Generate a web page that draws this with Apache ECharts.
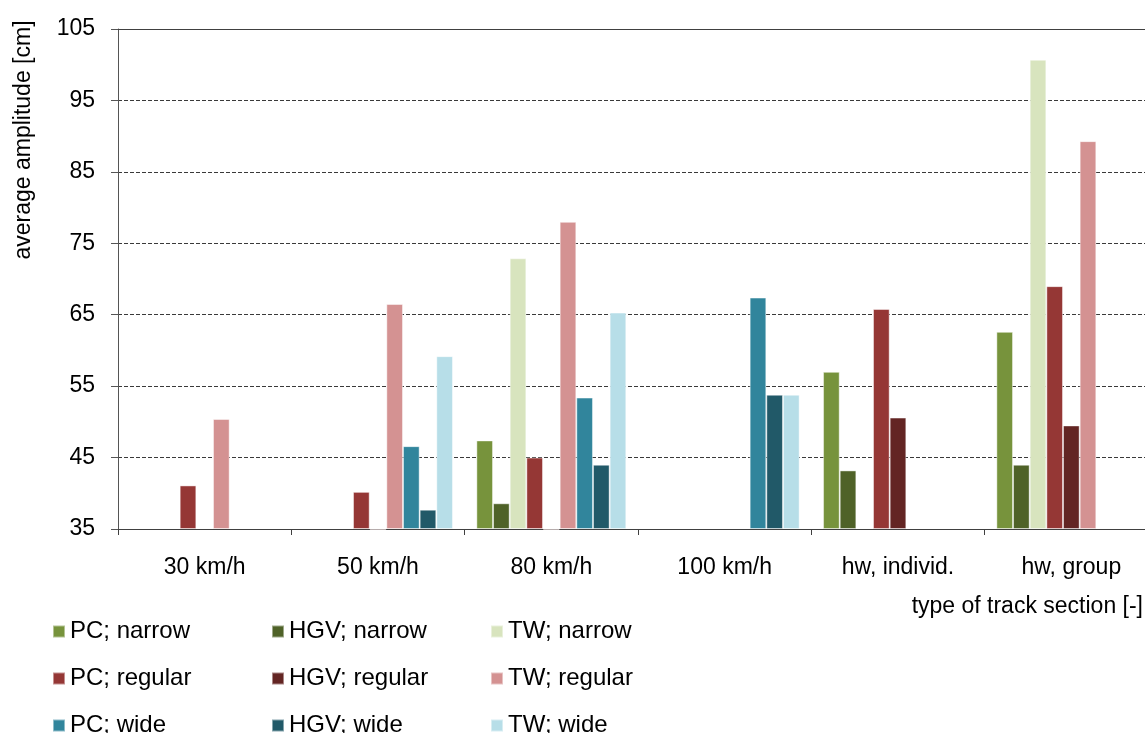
<!DOCTYPE html>
<html>
<head>
<meta charset="utf-8">
<script src="https://cdn.jsdelivr.net/npm/echarts@6/dist/echarts.min.js"></script>
<style>
html,body{margin:0;padding:0;background:#fff;overflow:hidden;width:1145px;height:733px;}
#chart{width:1158px;height:733px;}
</style>
</head>
<body>
<div id="chart"></div>
<script>
const categories = ['30 km/h', '50 km/h', '80 km/h', '100 km/h', 'hw, individ.', 'hw, group'];
const yTicks = [35, 45, 55, 65, 75, 85, 95, 105];

const pcNarrow   = [null, null, 47.4, null, 57.0, 62.6];
const hgvNarrow  = [null, null, 38.6, null, 43.2, 44.0];
const twNarrow   = [null, null, 72.9, null, null, 100.7];
const pcRegular  = [41.1, 40.2, 45.0, null, 65.8, 69.0];
const hgvRegular = [null, 34.8, 34.8, null, 50.6, 49.5];
const twRegular  = [50.4, 66.5, 78.0, null, null, 89.3];
const pcWide     = [null, 46.6, 53.4, 67.4, null, null];
const hgvWide    = [null, 37.7, 44.0, 53.8, null, null];
const twWide     = [null, 59.2, 65.3, 53.8, null, null];

const seriesNames = ['PC; narrow', 'HGV; narrow', 'TW; narrow',
                     'PC; regular', 'HGV; regular', 'TW; regular',
                     'PC; wide', 'HGV; wide', 'TW; wide'];
const seriesData = [pcNarrow, hgvNarrow, twNarrow, pcRegular, hgvRegular, twRegular, pcWide, hgvWide, twWide];
const seriesColors = ['#77933C', '#4F6228', '#D8E4BE',
                      '#953735', '#632523', '#D49292',
                      '#31859C', '#215968', '#B7DEE8'];

const FONT = '"Liberation Sans", Arial, sans-serif';

const chart = echarts.init(document.getElementById('chart'), null, {renderer: 'canvas'});

const option = {
  backgroundColor: '#ffffff',
  animation: false,
  textStyle: {fontFamily: FONT, color: '#000'},
  grid: {left: 118, top: 29, right: 0, bottom: 204, containLabel: false},
  legend: {
    left: 47,
    top: 608,
    width: 660,
    orient: 'horizontal',
    icon: 'rect',
    itemWidth: 12,
    itemHeight: 12,
    itemGap: 10,
    data: seriesNames,
    textStyle: {fontFamily: FONT, fontSize: 24, color: '#000', width: 191, lineHeight: 37}
  },
  xAxis: [{
    type: 'category',
    data: categories,
    position: 'bottom',
    axisLine: {show: true, lineStyle: {color: '#404040', width: 1}},
    axisTick: {show: true, length: 6, interval: 0, lineStyle: {color: '#404040'}},
    axisLabel: {fontFamily: FONT, fontSize: 23, color: '#000', margin: 27, interval: 0},
    splitLine: {show: false}
  }, {
    type: 'category',
    data: categories,
    position: 'top',
    axisLine: {show: true, lineStyle: {color: '#404040', width: 1}},
    axisTick: {show: false},
    axisLabel: {show: false},
    splitLine: {show: false}
  }],
  yAxis: {
    type: 'value',
    min: yTicks[0],
    max: yTicks[yTicks.length - 1],
    interval: 10,
    startValue: 35,
    axisLine: {show: true, lineStyle: {color: '#555', width: 1}},
    axisTick: {show: true, length: 7, lineStyle: {color: '#555'}},
    axisLabel: {fontFamily: FONT, fontSize: 23, color: '#000', margin: 23},
    splitLine: {show: true, lineStyle: {color: '#3a3a3a', width: 1, type: [4, 2]}}
  },
  graphic: [{
    type: 'text',
    x: 24, y: 140,
    rotation: Math.PI / 2,
    style: {text: 'average amplitude [cm]', fontFamily: FONT, fontSize: 23, fill: '#000',
            textAlign: 'center', textVerticalAlign: 'middle'}
  }, {
    type: 'text',
    x: 1143, y: 607,
    style: {text: 'type of track section [-]', fontFamily: FONT, fontSize: 23, fill: '#000',
            textAlign: 'right', textVerticalAlign: 'middle'}
  }],
  series: seriesNames.map((name, i) => ({
    name: name,
    type: 'bar',
    data: seriesData[i],
    barGap: '0%',
    barCategoryGap: '13.5%',
    clip: false,
    itemStyle: {color: seriesColors[i], borderColor: 'rgba(255,255,255,0.45)', borderWidth: 1}
  }))
};

chart.setOption(option);
</script>
</body>
</html>
